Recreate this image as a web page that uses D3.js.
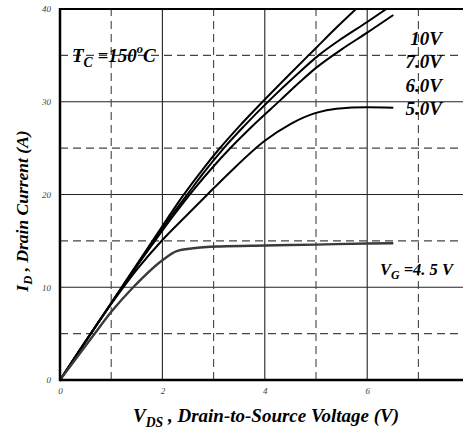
<!DOCTYPE html>
<html><head><meta charset="utf-8">
<script src="https://cdn.jsdelivr.net/npm/d3@7"></script>
<style>
html,body{margin:0;padding:0;background:#fff;}
svg{display:block;}
text{font-family:"Liberation Serif","Times New Roman",serif;}
</style></head>
<body>
<svg id="chart" width="463" height="434"></svg>
<script>
// ---- data ----
const xTicks = [0, 2, 4, 6];
const yTicks = [0, 10, 20, 30, 40];
const xSolidGrid = [2, 4, 6];
const xDashedGrid = [1, 3, 5, 7];
const ySolidGrid = [10, 20, 30];
const yDashedGrid = [5, 15, 25, 35];

const seriesNames = ["10V", "7.0V", "6.0V", "5.0V", "4.5V"];
const vds10V = [0, 1, 2, 2.4, 2.8, 3.1, 3.5, 4, 4.5, 5, 5.4, 5.8];
const id10V  = [0, 8.3, 16.6, 19.85, 22.8, 24.85, 27.35, 30.25, 33.05, 35.8, 38.0, 40.1];
const vds7V  = [0, 1.8, 2.2, 2.5, 2.8, 3.2, 3.6, 4.1, 4.6, 5.05, 5.5, 6.0, 6.4];
const id7V   = [0, 14.76, 17.9, 20.1, 22.3, 25.0, 27.4, 30.2, 32.8, 35.0, 36.8, 38.6, 40.1];
const vds6V  = [0, 1.8, 2.2, 2.6, 3.0, 3.3, 3.8, 4.3, 4.7, 5.0, 5.5, 6.0, 6.51];
const id6V   = [0, 14.58, 17.6, 20.45, 23.05, 24.85, 27.6, 30.15, 32.2, 33.65, 35.65, 37.45, 39.35];
const vds5V  = [0, 1.0, 1.5, 2.0, 2.5, 2.87, 3.3, 4.0, 4.5, 5.0, 5.4, 6.0, 6.51];
const id5V   = [0, 8.2, 11.9, 15.1, 17.9, 19.95, 22.3, 25.8, 27.6, 28.8, 29.25, 29.4, 29.35];
const vds45V = [0, 0.65, 1.01, 1.43, 2.02, 2.28, 2.6, 3.13, 4.0, 5.0, 6.0, 6.51];
const id45V  = [0, 4.8, 7.4, 10, 13.0, 13.9, 14.2, 14.4, 14.5, 14.6, 14.72, 14.75];

const xTitle = ["V", "DS", " , Drain-to-Source Voltage (V)"];
const yTitle = ["I", "D", " , Drain Current (A)"];
const tempLabel = ["T", "C", " =150", "o", "C"];
const vgLabel = ["V", "G", " =4. 5 V"];

// ---- layout ----
const svg = d3.select("#chart");
const x = d3.scaleLinear().domain([0, 8]).range([60, 469.6]);
const y = d3.scaleLinear().domain([0, 40]).range([380, 9]);

const series = [
  {name: seriesNames[0], v: vds10V, i: id10V, color: "#000", w: 2},
  {name: seriesNames[1], v: vds7V, i: id7V, color: "#000", w: 2},
  {name: seriesNames[2], v: vds6V, i: id6V, color: "#000", w: 2},
  {name: seriesNames[3], v: vds5V, i: id5V, color: "#000", w: 2},
  {name: seriesNames[4], v: vds45V, i: id45V, color: "#3a3a3a", w: 2.4}
];

svg.append("defs").append("clipPath").attr("id", "clip")
  .append("rect").attr("x", x(0)).attr("y", y(40))
  .attr("width", x(8) - x(0)).attr("height", y(0) - y(40));

// grid
const g = svg.append("g");
g.selectAll(".vs").data(xSolidGrid).join("line")
  .attr("x1", d => x(d)).attr("x2", d => x(d)).attr("y1", y(0)).attr("y2", y(40))
  .attr("stroke", "#222").attr("stroke-width", 1.1);
g.selectAll(".hs").data(ySolidGrid).join("line")
  .attr("x1", x(0)).attr("x2", x(8)).attr("y1", d => y(d)).attr("y2", d => y(d))
  .attr("stroke", "#222").attr("stroke-width", 1.1);
g.selectAll(".vd").data(xDashedGrid).join("line")
  .attr("x1", d => x(d)).attr("x2", d => x(d)).attr("y1", y(0)).attr("y2", y(40))
  .attr("stroke", "#444").attr("stroke-width", 1.1).attr("stroke-dasharray", "8,5");
g.selectAll(".hd").data(yDashedGrid).join("line")
  .attr("x1", x(0)).attr("x2", x(8)).attr("y1", d => y(d)).attr("y2", d => y(d))
  .attr("stroke", "#444").attr("stroke-width", 1.1).attr("stroke-dasharray", "8,5");

// curves
const line = d3.line().x(d => x(d[0])).y(d => y(d[1])).curve(d3.curveMonotoneX);
svg.append("g").attr("clip-path", "url(#clip)")
  .selectAll("path").data(series).join("path")
  .attr("d", s => line(s.v.map((v, k) => [v, s.i[k]])))
  .attr("fill", "none").attr("stroke", s => s.color).attr("stroke-width", s => s.w)
  .attr("stroke-linejoin", "round");

// frame
svg.append("line").attr("x1", x(0)).attr("x2", x(8)).attr("y1", y(0)).attr("y2", y(0))
  .attr("stroke", "#000").attr("stroke-width", 2.5);
svg.append("line").attr("x1", x(0)).attr("x2", x(8)).attr("y1", y(40)).attr("y2", y(40))
  .attr("stroke", "#000").attr("stroke-width", 2);
svg.append("line").attr("x1", x(0)).attr("x2", x(0)).attr("y1", y(0) + 1.2).attr("y2", y(40) - 1)
  .attr("stroke", "#000").attr("stroke-width", 2.5);

// axes tick labels via d3 axes
const xAxis = d3.axisBottom(x).tickValues(xTicks).tickSize(0).tickPadding(0).tickFormat(d3.format("d"));
const yAxis = d3.axisLeft(y).tickValues(yTicks).tickSize(0).tickPadding(0).tickFormat(d3.format("d"));
const xa = svg.append("g").attr("transform", `translate(0,${y(0) + 8})`).call(xAxis);
const ya = svg.append("g").attr("transform", `translate(${x(0) - 9},0)`).call(yAxis);
[xa, ya].forEach(a => {
  a.select(".domain").remove();
  a.selectAll("text").attr("font-family", '"Liberation Serif",serif').attr("font-style", "italic")
    .attr("font-size", 9).attr("fill", "#444");
});

function richText(parent, parts, opts) {
  const t = parent.append("text").attr("x", opts.x).attr("y", opts.y)
    .attr("font-size", opts.size).attr("font-weight", "bold").attr("font-style", "italic")
    .attr("text-anchor", opts.anchor || "start").attr("fill", "#000");
  if (opts.transform) t.attr("transform", opts.transform);
  opts.kinds.forEach((k, idx) => {
    const ts = t.append("tspan").text(parts[idx]);
    if (k === "sub") ts.attr("font-size", opts.size * 0.72).attr("dy", opts.size * 0.25);
    else if (k === "sup") ts.attr("font-size", opts.size * 0.65).attr("dy", -opts.size * 0.45);
    else if (idx > 0) {
      const prev = opts.kinds[idx - 1];
      if (prev === "sub") ts.attr("dy", -opts.size * 0.25);
      if (prev === "sup") ts.attr("dy", opts.size * 0.45);
    }
  });
  return t;
}

// axis titles
richText(svg, xTitle, {x: 133, y: 422, size: 19, kinds: ["n", "sub", "n"]});
richText(svg, yTitle, {x: 0, y: 0, size: 17.5, kinds: ["n", "sub", "n"], anchor: "middle",
  transform: "translate(28,211) rotate(-90)"});

// annotations
richText(svg, tempLabel, {x: 72, y: 62, size: 19, kinds: ["n", "sub", "n", "sup", "n"]});
const rightLabels = [seriesNames[0], seriesNames[1], seriesNames[2], seriesNames[3]];
const rightY = [45, 68, 92, 115];
svg.selectAll(".rl").data(rightLabels).join("text")
  .attr("x", 442).attr("y", (d, k) => rightY[k]).attr("text-anchor", "end")
  .attr("font-size", 19).attr("font-weight", "bold").attr("font-style", "italic").text(d => d);
richText(svg, vgLabel, {x: 380, y: 275, size: 16.5, kinds: ["n", "sub", "n"]});
</script>
</body></html>
